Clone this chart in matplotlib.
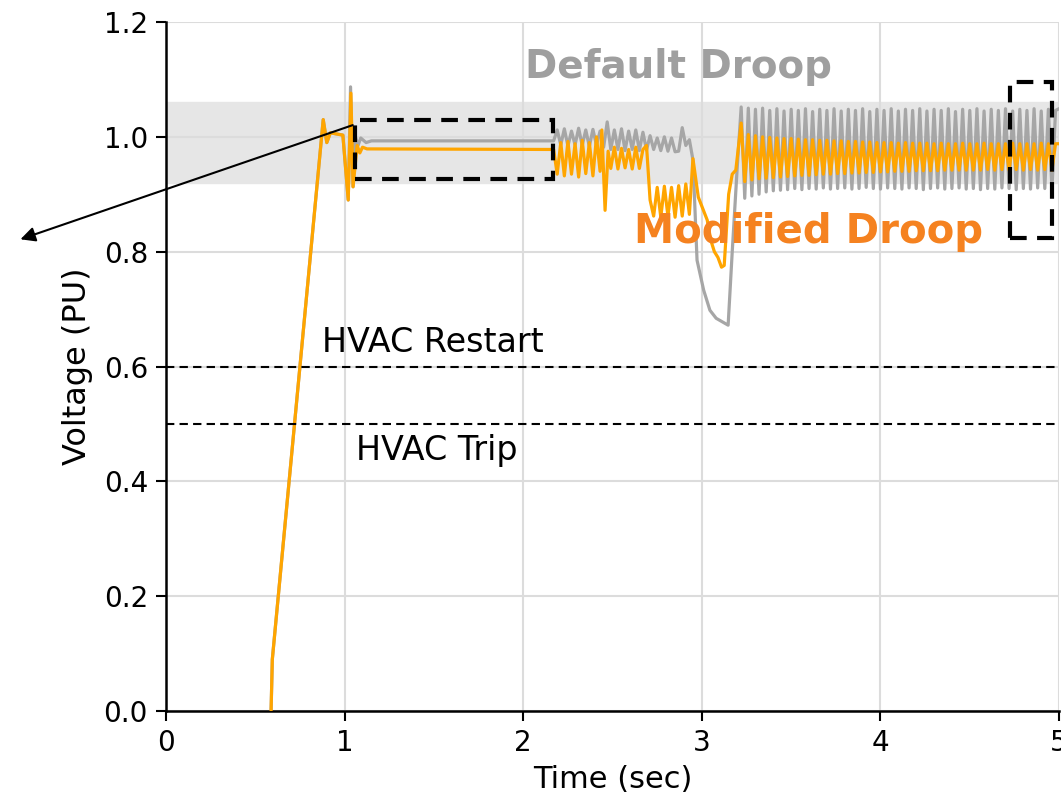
import matplotlib
matplotlib.use("Agg")
import matplotlib.pyplot as plt
from matplotlib.patches import Rectangle

plt.rcParams['font.family'] = ['DejaVu Sans']

# ---- data ----
# start-up: ramp, first swing, flat part (default droop)
t_def_a = [0.588, 0.595, 0.88, 0.90, 0.92, 0.99, 1.02, 1.033, 1.047, 1.06, 1.075, 1.09, 1.12, 1.15, 2.17]
v_def_a = [0.0, 0.09, 1.03, 0.99, 1.007, 1.003, 0.89, 1.087, 0.913, 1.0, 0.985, 0.998, 0.99, 0.993, 0.993]

# 2.17 s .. 3.2 s (default droop)
t_def_b = [2.19, 2.21, 2.23, 2.25, 2.27, 2.29, 2.31, 2.33, 2.35, 2.37, 2.39, 2.41, 2.43, 2.45,
           2.47, 2.49, 2.51, 2.53, 2.55, 2.57, 2.59, 2.61, 2.63, 2.65, 2.67, 2.69, 2.71, 2.73,
           2.75, 2.77, 2.79, 2.81, 2.83, 2.85, 2.87, 2.89, 2.91, 2.93, 2.95, 2.973, 3.01, 3.045,
           3.08, 3.147, 3.17, 3.197]
v_def_b = [1.012, 0.986, 1.014, 0.984, 1.010, 0.986, 1.015, 0.985, 1.012, 0.983, 1.013, 0.985, 1.010, 0.982,
           1.026, 0.978, 1.012, 0.978, 1.014, 0.976, 1.010, 0.978, 1.012, 0.976, 1.008, 0.977, 1.002, 0.978,
           0.998, 0.976, 1.000, 0.975, 0.998, 0.974, 0.975, 1.016, 0.985, 0.995, 0.960, 0.785, 0.733, 0.698,
           0.684, 0.672, 0.800, 0.942]

# start-up (modified droop)
t_mod_a = [0.588, 0.595, 0.88, 0.90, 0.92, 0.99, 1.02, 1.035, 1.047, 1.07, 1.085, 1.10, 1.125, 2.17]
v_mod_a = [0.0, 0.09, 1.03, 0.99, 1.007, 1.003, 0.89, 1.076, 0.913, 0.985, 0.972, 0.982, 0.979, 0.978]

# 2.17 s .. 3.2 s (modified droop)
t_mod_b = [2.19, 2.21, 2.23, 2.25, 2.27, 2.29, 2.31, 2.33, 2.35, 2.37, 2.39, 2.41, 2.43, 2.44,
           2.458, 2.475, 2.49, 2.51, 2.53, 2.55, 2.57, 2.59, 2.61, 2.63, 2.65, 2.67, 2.69, 2.71,
           2.73, 2.75, 2.77, 2.79, 2.81, 2.83, 2.85, 2.87, 2.89, 2.91, 2.93, 2.95, 2.98, 3.03,
           3.05, 3.07, 3.09, 3.11, 3.125, 3.15, 3.17, 3.19]
v_mod_b = [0.935, 0.990, 0.932, 0.992, 0.935, 0.988, 0.930, 0.994, 0.936, 0.990, 0.932, 1.000, 0.940, 1.012,
           0.872, 0.975, 0.945, 0.982, 0.944, 0.980, 0.946, 0.978, 0.944, 0.982, 0.945, 0.978, 0.985, 0.890,
           0.862, 0.912, 0.860, 0.914, 0.862, 0.912, 0.860, 0.915, 0.862, 0.918, 0.865, 0.962, 0.895, 0.855,
           0.820, 0.800, 0.790, 0.773, 0.776, 0.900, 0.935, 0.942]

# sustained oscillation 3.22 s .. 5 s (peak, trough, peak, ...)
t_osc = [3.22, 3.24, 3.26, 3.28, 3.30, 3.32, 3.34, 3.36, 3.38, 3.40,
         3.42, 3.44, 3.46, 3.48, 3.50, 3.52, 3.54, 3.56, 3.58, 3.60,
         3.62, 3.64, 3.66, 3.68, 3.70, 3.72, 3.74, 3.76, 3.78, 3.80,
         3.82, 3.84, 3.86, 3.88, 3.90, 3.92, 3.94, 3.96, 3.98, 4.00,
         4.02, 4.04, 4.06, 4.08, 4.10, 4.12, 4.14, 4.16, 4.18, 4.20,
         4.22, 4.24, 4.26, 4.28, 4.30, 4.32, 4.34, 4.36, 4.38, 4.40,
         4.42, 4.44, 4.46, 4.48, 4.50, 4.52, 4.54, 4.56, 4.58, 4.60,
         4.62, 4.64, 4.66, 4.68, 4.70, 4.72, 4.74, 4.76, 4.78, 4.80,
         4.82, 4.84, 4.86, 4.88, 4.90, 4.92, 4.94, 4.96, 4.98, 5.00]
v_def_osc = [1.052, 0.893, 1.050, 0.897, 1.048, 0.900, 1.050, 0.904, 1.046, 0.906,
             1.049, 0.907, 1.045, 0.908, 1.048, 0.910, 1.046, 0.908, 1.049, 0.910,
             1.044, 0.909, 1.048, 0.911, 1.046, 0.909, 1.049, 0.910, 1.045, 0.911,
             1.048, 0.909, 1.046, 0.910, 1.049, 0.912, 1.044, 0.910, 1.048, 0.909,
             1.046, 0.911, 1.049, 0.910, 1.045, 0.909, 1.048, 0.911, 1.046, 0.910,
             1.049, 0.908, 1.045, 0.910, 1.048, 0.911, 1.046, 0.909, 1.049, 0.910,
             1.044, 0.911, 1.048, 0.909, 1.046, 0.910, 1.049, 0.908, 1.045, 0.910,
             1.048, 0.909, 1.046, 0.911, 1.049, 0.910, 1.045, 0.908, 1.048, 0.910,
             1.046, 0.909, 1.049, 0.911, 1.045, 0.910, 1.048, 0.908, 1.046, 1.049]
v_mod_osc = [1.024, 0.922, 1.004, 0.925, 1.002, 0.927, 1.000, 0.928, 0.999, 0.929,
             0.998, 0.930, 0.997, 0.931, 0.997, 0.932, 0.996, 0.933, 0.995, 0.933,
             0.995, 0.934, 0.994, 0.935, 0.994, 0.935, 0.993, 0.936, 0.993, 0.936,
             0.992, 0.937, 0.992, 0.937, 0.991, 0.938, 0.991, 0.938, 0.990, 0.939,
             0.990, 0.939, 0.990, 0.940, 0.989, 0.940, 0.990, 0.940, 0.989, 0.941,
             0.989, 0.941, 0.989, 0.941, 0.988, 0.941, 0.989, 0.942, 0.988, 0.942,
             0.988, 0.942, 0.989, 0.942, 0.988, 0.942, 0.988, 0.942, 0.989, 0.943,
             0.988, 0.942, 0.988, 0.943, 0.988, 0.942, 0.989, 0.943, 0.988, 0.942,
             0.988, 0.943, 0.988, 0.942, 0.989, 0.943, 0.988, 0.942, 0.988, 0.988]

t_default = t_def_a + t_def_b + t_osc
v_default = v_def_a + v_def_b + v_def_osc
t_modified = t_mod_a + t_mod_b + t_osc
v_modified = v_mod_a + v_mod_b + v_mod_osc

band = (0.92, 1.06)
restart_level = 0.6
trip_level = 0.5

# ---- figure ----
fig = plt.figure(figsize=(10.61, 8.09), dpi=100)
ax = fig.add_axes([0.1565, 0.1211, 0.8417, 0.8517])

ax.axhspan(band[0], band[1], color='#e6e6e6', zorder=0)
ax.grid(True, color='#dcdcdc', linewidth=1.5, zorder=0.5)
ax.set_axisbelow(True)

ax.plot(t_default, v_default, color='#a6a6a6', linewidth=2.3, zorder=2)
ax.plot(t_modified, v_modified, color='#ffa500', linewidth=2.3, zorder=3)

ax.axhline(restart_level, color='black', linestyle=(0, (4, 2.5)), linewidth=1.5, zorder=4)
ax.axhline(trip_level, color='black', linestyle=(0, (4, 2.5)), linewidth=1.5, zorder=4)
ax.text(0.873, 0.641, 'HVAC Restart', fontsize=24, va='center', ha='left', zorder=5)
ax.text(1.064, 0.454, 'HVAC Trip', fontsize=24, va='center', ha='left', zorder=5)

ax.text(2.867, 1.122, 'Default Droop', fontsize=28, fontweight='bold', color='#9f9f9f',
        ha='center', va='center', zorder=6)
ax.text(3.595, 0.834, 'Modified Droop', fontsize=29, fontweight='bold', color='#f58220',
        ha='center', va='center', zorder=6)

# dashed zoom boxes
ax.add_patch(Rectangle((1.058, 0.926), 2.167 - 1.058, 1.029 - 0.926, fill=False,
                       edgecolor='black', linewidth=3, linestyle=(0, (4, 2.5)), zorder=7))
ax.add_patch(Rectangle((4.726, 0.824), 4.961 - 4.726, 1.095 - 0.824, fill=False,
                       edgecolor='black', linewidth=3, linestyle=(0, (4, 2.5)), zorder=7,
                       clip_on=False))

ax.annotate('', xy=(-0.83, 0.82), xytext=(1.06, 1.022), annotation_clip=False,
            arrowprops=dict(arrowstyle='-|>', color='black', lw=1.5, mutation_scale=22),
            zorder=8)

ax.set_xlim(0, 5)
ax.set_ylim(0, 1.2)
ax.set_xticks([0, 1, 2, 3, 4, 5])
ax.set_yticks([0.0, 0.2, 0.4, 0.6, 0.8, 1.0, 1.2])
ax.set_yticklabels(['0.0', '0.2', '0.4', '0.6', '0.8', '1.0', '1.2'])
ax.tick_params(axis='both', labelsize=20, direction='out', length=7, width=1.5, pad=6)
ax.set_xlabel('Time (sec)', fontsize=22, labelpad=6)
ax.set_ylabel('Voltage (PU)', fontsize=23, labelpad=8)

for side in ['top', 'right']:
    ax.spines[side].set_visible(False)
for side in ['left', 'bottom']:
    ax.spines[side].set_linewidth(1.8)

fig.savefig('out.png', dpi=100)
